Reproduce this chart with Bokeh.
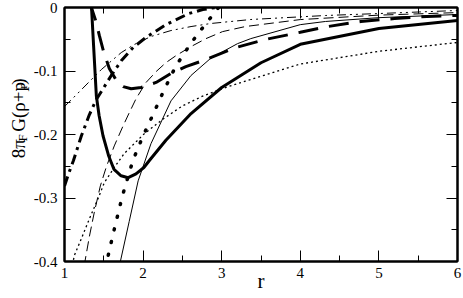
from bokeh.plotting import figure
from bokeh.models import Range1d, LinearAxis, FixedTicker, CustomJSTickFormatter
from bokeh.layouts import row
from bokeh.core.properties import value
from bokeh.embed import file_html
from bokeh.resources import INLINE

# ---- data ----
r_thick_solid = [1.335, 1.37, 1.405, 1.44, 1.49, 1.56, 1.63, 1.72, 1.81, 1.91, 2.01, 2.08, 2.29, 2.61, 3.0, 3.5, 4.0, 5.0, 6.0]
v_thick_solid = [0.02, -0.06, -0.139, -0.170, -0.202, -0.233, -0.255, -0.265, -0.268, -0.262, -0.252, -0.241, -0.209, -0.167, -0.126, -0.087, -0.058, -0.033, -0.0205]

r_thin_solid = [1.709, 1.823, 1.937, 2.10, 2.355, 2.61, 2.86, 3.20, 3.37, 4.0, 4.32, 5.0, 6.0]
v_thin_solid = [-0.401, -0.337, -0.273, -0.2145, -0.147, -0.107, -0.080, -0.057, -0.049, -0.027, -0.022, -0.016, -0.011]

r_thin_dot = [1.10, 1.127, 1.215, 1.316, 1.43, 1.506, 1.633, 1.76, 1.886, 2.013, 2.25, 2.5, 2.75, 3.0, 3.3, 4.0, 5.0, 6.0]
v_thin_dot = [-0.405, -0.390, -0.364, -0.333, -0.300, -0.276, -0.252, -0.230, -0.2145, -0.199, -0.176, -0.155, -0.140, -0.128, -0.116, -0.089, -0.069, -0.055]

r_thin_dash = [1.25, 1.316, 1.38, 1.456, 1.532, 1.633, 1.747, 1.823, 1.911, 2.038, 2.165, 2.291, 2.42, 2.61, 2.80, 3.01, 3.30, 4.0, 5.0, 6.0]
v_thin_dash = [-0.407, -0.361, -0.322, -0.281, -0.251, -0.218, -0.186, -0.166, -0.1435, -0.118, -0.101, -0.0868, -0.0757, -0.0615, -0.049, -0.038, -0.030, -0.019, -0.012, -0.008]

r_thin_dashdotdot = [1.0, 1.114, 1.468, 1.722, 1.886, 2.10, 2.354, 2.61, 2.86, 3.37, 4.32, 5.0, 6.0]
v_thin_dashdotdot = [-0.156, -0.142, -0.0978, -0.071, -0.0584, -0.0457, -0.0363, -0.030, -0.0252, -0.0189, -0.0126, -0.0095, -0.0047]

r_thick_dashdot = [1.0, 1.051, 1.114, 1.215, 1.316, 1.405, 1.595, 1.722, 1.873, 2.038, 2.291, 2.582, 2.759, 2.924, 3.0]
v_thick_dashdot = [-0.281, -0.262, -0.241, -0.202, -0.169, -0.145, -0.107, -0.084, -0.063, -0.047, -0.027, -0.0095, -0.0032, 0.0, 0.005]

r_thick_dot = [1.52, 1.62, 1.734, 1.80, 1.873, 2.0, 2.076, 2.165, 2.266, 2.418, 2.61, 2.80, 2.90, 2.96, 3.0]
v_thick_dot = [-0.41, -0.356, -0.298, -0.270, -0.240, -0.202, -0.182, -0.158, -0.130, -0.092, -0.056, -0.025, -0.010, 0.0, 0.006]

r_thick_dash = [1.33, 1.342, 1.405, 1.443, 1.494, 1.57, 1.66, 1.747, 1.848, 1.975, 2.165, 2.354, 2.544, 2.80, 3.18, 3.57, 4.0, 4.35, 4.77, 5.2, 5.61, 6.0]
v_thick_dash = [0.01, 0.0, -0.0237, -0.044, -0.068, -0.096, -0.115, -0.1246, -0.128, -0.126, -0.118, -0.104, -0.093, -0.082, -0.063, -0.050, -0.039, -0.030, -0.022, -0.0174, -0.0142, -0.0125]

x_ticks = [1, 2, 3, 4, 5, 6]
x_minor_ticks = [1.5, 2.5, 3.5, 4.5, 5.5]
y_ticks = [-0.4, -0.3, -0.2, -0.1, 0]
y_tick_labels = ["-0.4", "-0.3", "-0.2", "-0.1", "0"]
y_minor_ticks = [-0.35, -0.25, -0.15, -0.05]

x_title = "r"
y_title_parts = ["8π", "F", "G(ρ+p", "r", ")"]
y_title_is_sub = [False, True, False, True, False]

FONT = "Liberation Serif"
H = 298
LW = 30            # width of the strip that holds the y title
W = 463 - LW       # width of the main plot

# ---------------- main plot ----------------
p = figure(width=W, height=H, x_range=Range1d(1, 6), y_range=Range1d(-0.4, 0),
           output_backend="svg", toolbar_location=None,
           min_border_left=63 - LW, min_border_right=6, min_border_top=7, min_border_bottom=37)
p.xgrid.visible = False
p.ygrid.visible = False
p.background_fill_color = "white"
p.border_fill_color = "white"
p.outline_line_color = "black"
p.outline_line_width = 2


def style_axis(ax, ticks, minor, show_labels):
    ax.ticker = FixedTicker(ticks=ticks, minor_ticks=minor)
    ax.axis_line_color = "black"
    ax.axis_line_width = 2
    ax.major_tick_in = 11
    ax.major_tick_out = 0
    ax.minor_tick_in = 6
    ax.minor_tick_out = 0
    ax.major_tick_line_color = "black"
    ax.minor_tick_line_color = "black"
    ax.major_tick_line_width = 1
    ax.minor_tick_line_width = 1
    if show_labels:
        ax.major_label_text_font = FONT
        ax.major_label_text_font_size = "15px"
        ax.major_label_text_font_style = "normal"
        ax.major_label_text_color = "black"
    else:
        ax.formatter = CustomJSTickFormatter(code="return ''")
        ax.major_label_text_font_size = "0px"
        ax.major_label_standoff = 0


xb = p.xaxis[0]
style_axis(xb, x_ticks, x_minor_ticks, True)
xb.major_label_standoff = 6
xb.axis_label = x_title
xb.axis_label_text_font = FONT
xb.axis_label_text_font_size = "21px"
xb.axis_label_text_font_style = "normal"
xb.axis_label_text_color = "black"
xb.axis_label_standoff = -12

yl = p.yaxis[0]
style_axis(yl, y_ticks, y_minor_ticks, True)
yl.major_label_overrides = {t: s for t, s in zip(y_ticks, y_tick_labels)}
yl.major_label_standoff = 7

xt = LinearAxis()
style_axis(xt, x_ticks, x_minor_ticks, False)
p.add_layout(xt, "above")
yr = LinearAxis()
style_axis(yr, y_ticks, y_minor_ticks, False)
p.add_layout(yr, "right")

# ---- curves ----
p.line(r_thick_solid, v_thick_solid, line_color="black", line_width=3)
p.line(r_thin_solid, v_thin_solid, line_color="black", line_width=1)
p.line(r_thin_dot, v_thin_dot, line_color="black", line_width=1.3, line_dash="2 3")
p.line(r_thin_dash, v_thin_dash, line_color="black", line_width=1, line_dash="10 5")
p.line(r_thin_dashdotdot, v_thin_dashdotdot, line_color="black", line_width=1, line_dash="9 4 2 4 2 4")
p.line(r_thick_dashdot, v_thick_dashdot, line_color="black", line_width=3, line_dash="10 5 3 5")
p.line(r_thick_dot, v_thick_dot, line_color="black", line_width=3.5, line_dash="1 12", line_cap="round")
p.line(r_thick_dash, v_thick_dash, line_color="black", line_width=3, line_dash="20 11")

# ---------------- y-axis title strip (text with subscripts) ----------------
q = figure(width=LW, height=H, x_range=Range1d(0, LW), y_range=Range1d(0, H),
           output_backend="svg", toolbar_location=None,
           x_axis_location=None, y_axis_location=None,
           min_border=0, min_border_left=0, min_border_right=0,
           min_border_top=0, min_border_bottom=0)
q.outline_line_color = None
q.background_fill_color = "white"
q.border_fill_color = "white"
q.grid.visible = False

# advance widths (px) of each piece and baseline drop for subscripts
advances = [19.8, 11.4, 50.5, 4.8, 6.3]
main_size, sub_size = "19px", "13px"
baseline_x = 18.0
start_y = 121.0
pos = start_y
xs, ys, ts, sizes = [], [], [], []
for part, is_sub, adv in zip(y_title_parts, y_title_is_sub, advances):
    xs.append(baseline_x + (3.5 if is_sub else 0.0))
    ys.append(pos)
    ts.append(part)
    sizes.append(sub_size if is_sub else main_size)
    pos += adv

for xx, yy, tt, ss in zip(xs, ys, ts, sizes):
    q.text(x=[xx], y=[yy], text=[tt], angle=1.5707963, text_font=value(FONT),
           text_font_size=value(ss), text_align="left", text_baseline="alphabetic",
           text_color="black")

layout = row(q, p)
open("out.html", "w").write(file_html(layout, INLINE))
